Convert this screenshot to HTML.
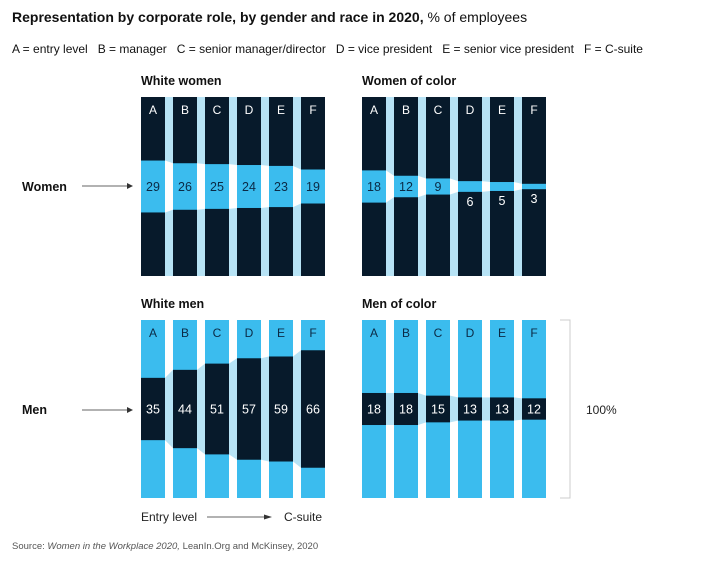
<!DOCTYPE html>
<html><head><meta charset="utf-8">
<style>
body{margin:0;background:#fff;font-family:"Liberation Sans",Arial,sans-serif;}
svg text{font-family:"Liberation Sans",Arial,sans-serif;white-space:pre;}
</style></head>
<body>
<svg id="c" width="720" height="562" viewBox="0 0 720 562" xmlns="http://www.w3.org/2000/svg">
<rect width="720" height="562" fill="#fff"/>
<text x="12" y="22" font-size="14" fill="#111"><tspan font-weight="bold">Representation by corporate role, by gender and race in 2020,</tspan> % of employees</text>
<text x="12" y="53" font-size="12" fill="#111">A = entry level   B = manager   C = senior manager/director   D = vice president   E = senior vice president   F = C-suite</text>
<text x="141" y="85" font-size="12.5" font-weight="bold" fill="#111">White women</text>
<text x="362" y="85" font-size="12.5" font-weight="bold" fill="#111">Women of color</text>
<text x="141" y="308" font-size="12.5" font-weight="bold" fill="#111">White men</text>
<text x="362" y="308" font-size="12.5" font-weight="bold" fill="#111">Men of color</text>
<text x="22" y="191" font-size="12.5" font-weight="bold" fill="#111">Women</text>
<g><line x1="82" y1="186" x2="128" y2="186" stroke="#333" stroke-width="0.8"/><path d="M127,183 L133,186 L127,189 Z" fill="#333"/></g>
<text x="22" y="414" font-size="12.5" font-weight="bold" fill="#111">Men</text>
<g><line x1="82" y1="410" x2="128" y2="410" stroke="#333" stroke-width="0.8"/><path d="M127,407 L133,410 L127,413 Z" fill="#333"/></g>
<text x="141" y="521" font-size="12" fill="#222">Entry level</text>
<g><line x1="207" y1="517" x2="268" y2="517" stroke="#333" stroke-width="0.8"/><path d="M264,514.5 L272,517 L264,519.5 Z" fill="#333"/></g>
<text x="284" y="521" font-size="12" fill="#222">C-suite</text>
<g><path d="M560,320 H570 V498 H560" fill="none" stroke="#ccc" stroke-width="1"/></g>
<text x="586" y="414" font-size="12" fill="#222">100%</text>
<text x="12" y="549" font-size="9.5" fill="#555">Source: <tspan font-style="italic">Women in the Workplace 2020,</tspan> LeanIn.Org and McKinsey, 2020</text>
<g id="plots"></g>
</svg>
<script>
const levels = ["A","B","C","D","E","F"];
const whiteWomen = [29,26,25,24,23,19];
const womenOfColor = [18,12,9,6,5,3];
const whiteMen = [35,44,51,57,59,66];
const menOfColor = [18,18,15,13,13,12];

const DARK="#071a2b", MID="#3bbcee", PALE="#b7e3f5";
const NS="http://www.w3.org/2000/svg";
const g=document.getElementById('plots');
function mk(t,a){const e=document.createElementNS(NS,t);for(const k in a)e.setAttribute(k,a[k]);return e;}

function panel(name, values, x0, top, bottom, womenStyle){
  const H=bottom-top, pitch=32, bw=24, mid=(top+bottom)/2;
  const yS=v=>v/100*H;
  const xb=i=>x0+i*pitch;
  const grp=mk('g',{});
  
  
  g.appendChild(grp);
  const bg=womenStyle?PALE:"#fff", band=womenStyle?"#fff":PALE;
  const base=womenStyle?DARK:MID, seg=womenStyle?MID:DARK;
  const bgr=mk('rect',{x:xb(0),y:top,width:xb(levels.length-1)+bw-xb(0),height:H,fill:bg});
  
  
  grp.appendChild(bgr);
  for(let i=0;i<values.length-1;i++){
    const h1=yS(values[i])/2,h2=yS(values[i+1])/2;
    const p=mk('polygon',{points:`${xb(i)+bw},${mid-h1} ${xb(i+1)},${mid-h2} ${xb(i+1)},${mid+h2} ${xb(i)+bw},${mid+h1}`,fill:band});
    
    
    grp.appendChild(p);
  }
  values.forEach((v,i)=>{
    const r=mk('rect',{x:xb(i),y:top,width:bw,height:H,fill:base});
    
    
    grp.appendChild(r);
    const h=yS(v);
    const s=mk('rect',{x:xb(i),y:mid-h/2,width:bw,height:h,fill:seg});
    
    
    grp.appendChild(s);
    const lt=mk('text',{x:xb(i)+bw/2,y:top+17,'text-anchor':'middle','font-size':12,fill:womenStyle?"#fff":"#0b2a45"});
    lt.textContent=levels[i];
    
    
    grp.appendChild(lt);
    const small=v<8;
    const vy=small?mid+h/2+14:mid+4.5;
    const vt=mk('text',{x:xb(i)+bw/2,y:vy,'text-anchor':'middle','font-size':12.5,fill:(womenStyle&&!small)?"#0b2a45":"#fff"});
    vt.textContent=v;
    
    
    grp.appendChild(vt);
  });
}
panel('white-women', whiteWomen, 141, 97, 276, true);
panel('women-of-color', womenOfColor, 362, 97, 276, true);
panel('white-men', whiteMen, 141, 320, 498, false);
panel('men-of-color', menOfColor, 362, 320, 498, false);
</script>
</body></html>
